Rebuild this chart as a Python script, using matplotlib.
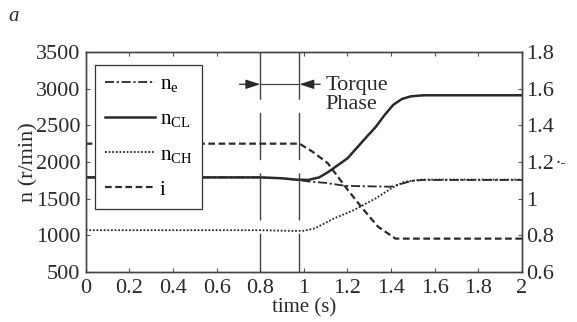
import numpy as np
import matplotlib
matplotlib.use("Agg")
import matplotlib.pyplot as plt

# engine / clutch speeds (r/min) and current, sampled along time (s)
t_cl = [0, 0.8, 0.9, 0.96, 1.02, 1.07, 1.11, 1.2, 1.29, 1.33, 1.37, 1.41, 1.45, 1.49, 1.55, 2.0]
n_cl = [1790, 1790, 1778, 1760, 1755, 1790, 1860, 2050, 2350, 2480, 2640, 2780, 2860, 2895, 2910, 2910]

t_e = [0, 0.8, 0.9, 0.96, 1.02, 1.1, 1.19, 1.3, 1.4, 1.45, 1.5, 1.55, 2.0]
n_e = [1790, 1790, 1778, 1760, 1735, 1715, 1675, 1668, 1663, 1705, 1745, 1755, 1755]

t_ch = [0, 0.8, 0.95, 1.0, 1.05, 1.14, 1.23, 1.33, 1.4, 1.46, 1.54, 2.0]
n_ch = [1070, 1070, 1060, 1062, 1095, 1232, 1345, 1505, 1640, 1730, 1760, 1760]

t_i = [0, 0.8, 0.98, 1.04, 1.11, 1.19, 1.27, 1.34, 1.42, 2.0]
cur = [1.3, 1.3, 1.3, 1.256, 1.193, 1.065, 0.945, 0.847, 0.782, 0.782]

phase_start, phase_end = 0.8, 0.98
arrow_level = 3060

xticks = [0, 0.2, 0.4, 0.6, 0.8, 1, 1.2, 1.4, 1.6, 1.8, 2]
yticks_left = [500, 1000, 1500, 2000, 2500, 3000, 3500]
yticks_right = [0.6, 0.8, 1, 1.2, 1.4, 1.6, 1.8]

plt.rcParams['font.family'] = 'Liberation Serif'
plt.rcParams['font.size'] = 16
plt.rcParams['mathtext.fontset'] = 'custom'
plt.rcParams['mathtext.rm'] = 'Liberation Serif'
plt.rcParams['mathtext.it'] = 'Liberation Serif:italic'

ink = '#2a2a2a'
fig = plt.figure(figsize=(5.77, 3.22), dpi=100)
ax = fig.add_axes([0.1485, 0.1553, 0.7562, 0.6832])
ax2 = ax.twinx()

l_e, = ax.plot(t_e, n_e, color=ink, lw=1.3, dashes=(5, 1.5, 1.2, 1.5))
l_cl, = ax.plot(t_cl, n_cl, color=ink, lw=1.8)
l_ch, = ax.plot(t_ch, n_ch, color=ink, lw=1.3, dashes=(1, 1))
l_i, = ax2.plot(t_i, cur, color=ink, lw=1.6, dashes=(3, 1.6))

# torque phase markers
for tp in (phase_start, phase_end):
    ax.plot([tp, tp], [3500, 500], color='#444444', lw=1.0, dashes=(34, 9.5))
ax.plot([phase_start, phase_end], [arrow_level, arrow_level], color='#444444', lw=0.9)
arrow = dict(arrowstyle='-|>,head_length=0.55,head_width=0.18',
             color=ink, lw=0.9, shrinkA=0, shrinkB=0)
ax.annotate('', xy=(phase_start, arrow_level), xytext=(0.705, arrow_level),
            arrowprops=arrow)
ax.annotate('', xy=(phase_end, arrow_level), xytext=(1.075, arrow_level),
            arrowprops=arrow)
ax.text(1.1, 2920, 'Torque\nPhase', color=ink, fontsize=16, va='center',
        ha='left', linespacing=1.0)

ax.set_xlim(0, 2)
ax.set_ylim(500, 3500)
ax2.set_ylim(0.6, 1.8)
ax.set_xticks(xticks)
ax.set_xticklabels([f'{v:g}' for v in xticks])
ax.set_yticks(yticks_left)
ax2.set_yticks(yticks_right)
ax2.set_yticklabels([f'{v:g}' for v in yticks_right])

ax.tick_params(axis='both', direction='in', length=3, width=0.8, colors='#555555',
               labelcolor=ink, top=True, pad=4)
ax.tick_params(axis='x', pad=5)
ax2.tick_params(axis='y', direction='in', length=3, width=0.8, colors='#555555',
                labelcolor=ink, pad=3)
for a in (ax, ax2):
    for s in a.spines.values():
        s.set_color('#444444')
        s.set_linewidth(1.0)

ax.set_xlabel('time (s)', color=ink, labelpad=0.5, fontsize=15)
ax.set_ylabel('n (r/min)', color=ink, labelpad=-2)

leg = ax2.legend([l_e, l_cl, l_ch, l_i],
                 [r'n$_\mathrm{e}$', r'n$_\mathrm{CL}$', r'n$_\mathrm{CH}$', 'i'],
                 loc='upper left', bbox_to_anchor=(0.022, 0.94), fancybox=False,
                 edgecolor='#333333', framealpha=1, handlelength=2.4,
                 handletextpad=0.25, labelspacing=0.75, borderpad=0.45,
                 borderaxespad=0, fontsize=15)
leg.get_frame().set_linewidth(0.9)

fig.text(0.015, 0.935, 'a', style='italic', fontsize=15, color=ink)
fig.text(0.963, 0.492, '·-', fontsize=12, color=ink, va='center',
         family='DejaVu Serif')

fig.savefig('out.png', dpi=100)
